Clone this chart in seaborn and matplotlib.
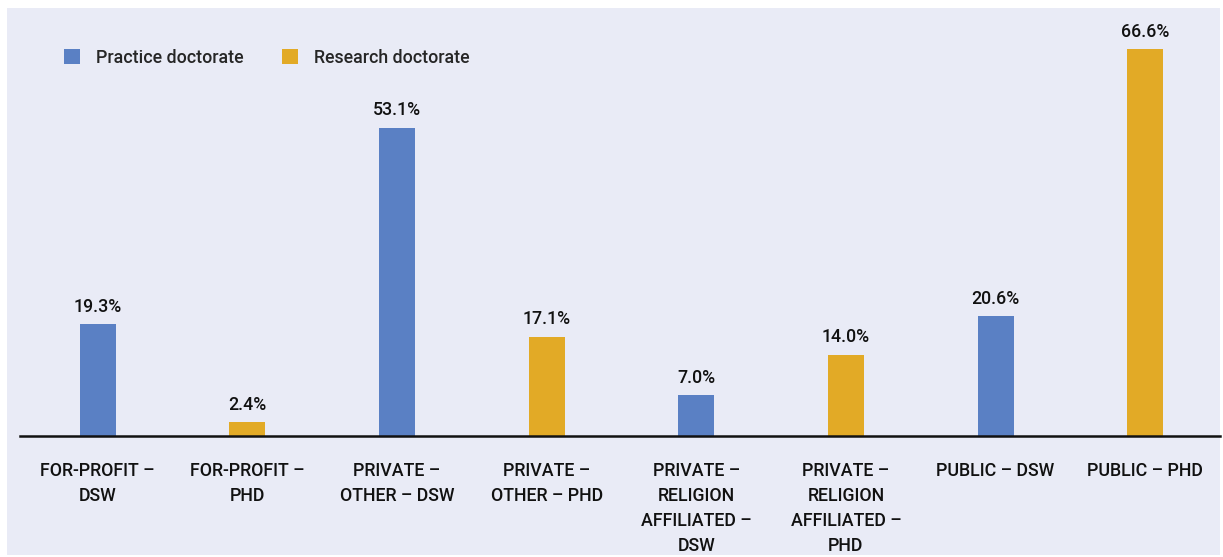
import pandas as pd
import matplotlib.pyplot as plt
import seaborn as sns
from matplotlib.patches import Rectangle

# data
categories = ['FOR-PROFIT –\nDSW', 'FOR-PROFIT –\nPHD', 'PRIVATE –\nOTHER – DSW', 'PRIVATE –\nOTHER – PHD',
              'PRIVATE –\nRELIGION\nAFFILIATED –\nDSW', 'PRIVATE –\nRELIGION\nAFFILIATED –\nPHD',
              'PUBLIC – DSW', 'PUBLIC – PHD']
values = [19.3, 2.4, 53.1, 17.1, 7.0, 14.0, 20.6, 66.6]
types = ['Practice doctorate', 'Research doctorate'] * 4

bg = '#E9EBF6'
colors = {'Practice doctorate': '#5A80C4', 'Research doctorate': '#E2AA26'}

sns.set_theme(style='white')
plt.rcParams['font.family'] = ['Roboto', 'DejaVu Sans']
plt.rcParams['font.weight'] = 'medium'

df = pd.DataFrame({'cat': categories, 'val': values, 'type': types})

fig = plt.figure(figsize=(12.23, 5.57), dpi=100)
fig.patch.set_facecolor('white')
# lavender panel behind the chart
fig.patches.append(Rectangle((7/1223, 2/557), 1213/1223, 547/557, transform=fig.transFigure,
                             facecolor=bg, edgecolor='none', zorder=-5))
ax = fig.add_axes([20/1223, 121/557, 1200/1223, 418/557])
ax.set_facecolor(bg)

sns.barplot(data=df, x='cat', y='val', hue='type', palette=colors, dodge=False, width=0.24,
            saturation=1, linewidth=0, ax=ax)

for c in ax.containers:
    ax.bar_label(c, fmt='%.1f%%', padding=6, fontsize=12.8, color='#111111', fontweight='medium')

ax.set_xlim(-0.52, 7.5)
ax.set_ylim(0, 72)
ax.set_xlabel('')
ax.set_ylabel('')
ax.set_yticks([])
ax.tick_params(axis='x', length=0, pad=19, labelsize=12.8, labelcolor='#111111')
for lab in ax.get_xticklabels():
    lab.set_linespacing(1.5)
    lab.set_verticalalignment('top')
    lab.set_fontweight('medium')
for s in ['top', 'right', 'left']:
    ax.spines[s].set_visible(False)
ax.spines['bottom'].set_color('#111111')
ax.spines['bottom'].set_linewidth(1.8)

ax.legend(loc='upper left', bbox_to_anchor=(0.023, 0.965), ncol=2, frameon=False,
          prop={'size': 12.8, 'weight': 'medium'},
          handlelength=0.9, handleheight=0.9, handletextpad=0.9, columnspacing=2.2, title=None)

plt.savefig('out.png', dpi=100, facecolor='white')
plt.close()
